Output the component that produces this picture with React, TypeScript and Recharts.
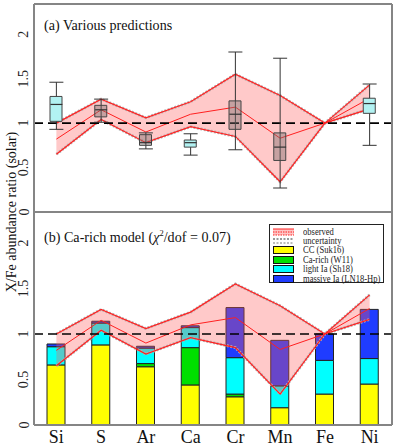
import React from "react";
import {
  Area,
  Bar,
  Cell,
  ComposedChart,
  ErrorBar,
  Line,
  ReferenceLine,
  Scatter,
  XAxis,
  YAxis,
} from "recharts";

const ELEMENTS = ["Si", "S", "Ar", "Ca", "Cr", "Mn", "Fe", "Ni"];

// observed abundance band (same in both panels)
const OBS_UPPER = [1.0, 1.27, 1.06, 1.24, 1.55, 1.31, 1.0, 1.43];
const OBS_MID = [0.82, 1.15, 0.9, 1.1, 1.18, 0.83, 1.0, 1.28];
const OBS_LOWER = [0.65, 1.04, 0.78, 0.96, 0.85, 0.34, 1.0, 1.16];

// panel (a): prediction boxes
const BOX_LOW = [1.02, 1.07, 0.75, 0.73, 0.93, 0.58, null, 1.11];
const BOX_HIGH = [1.3, 1.2, 0.87, 0.81, 1.25, 0.89, null, 1.28];
const BOX_MEDIAN = [1.21, 1.15, 0.78, 0.78, 1.1, 0.73, null, 1.22];
const WHISKER_LOW = [0.93, 1.01, 0.71, 0.64, 0.7, 0.27, null, 0.75];
const WHISKER_HIGH = [1.46, 1.27, 0.89, 0.88, 1.8, 1.73, null, 1.44];
const BOX_KIND = ["light", "mixed", "mixed", "light", "mixed", "mixed", null, "light"];

// panel (b): Ca-rich model contributions
const CC = [0.66, 0.88, 0.64, 0.44, 0.31, 0.19, 0.34, 0.45];
const CA_RICH = [0, 0, 0.035, 0.41, 0.03, 0, 0, 0];
const LIGHT_IA = [0.2, 0.24, 0.17, 0.22, 0.4, 0.24, 0.37, 0.28];
const MASSIVE_IA = [0.03, 0.02, 0.02, 0.02, 0.55, 0.5, 0.29, 0.54];

const MAJOR_TICKS = [0, 0.5, 1, 1.5, 2];
const MINOR_TICKS = [
  0.1, 0.2, 0.3, 0.4, 0.6, 0.7, 0.8, 0.9, 1.1, 1.2, 1.3, 1.4, 1.6, 1.7, 1.8, 1.9,
  2.1, 2.2, 2.3,
];
const Y_MAX = 2.34;

const SERIF = "'Liberation Serif', 'DejaVu Serif', serif";
const FRAME = "#858585";
const RED = "#ff2020";

const rows = ELEMENTS.map((el, i) => ({
  el,
  band: [OBS_LOWER[i], OBS_UPPER[i]],
  upper: OBS_UPPER[i],
  mid: OBS_MID[i],
  lower: OBS_LOWER[i],
  upperHalo: OBS_UPPER[i],
  lowerHalo: OBS_LOWER[i],
  box: BOX_LOW[i] == null ? null : [BOX_LOW[i], BOX_HIGH[i]],
  median: BOX_MEDIAN[i],
  whisker:
    BOX_MEDIAN[i] == null
      ? null
      : [BOX_MEDIAN[i]! - WHISKER_LOW[i]!, WHISKER_HIGH[i]! - BOX_MEDIAN[i]!],
  cc: CC[i],
  caRich: CA_RICH[i],
  lightIa: LIGHT_IA[i],
  massiveIa: MASSIVE_IA[i],
}));

function RotatedTick(props: any) {
  const { x, y, payload } = props;
  return (
    <text
      x={x}
      y={y}
      transform={`rotate(-90 ${x} ${y})`}
      textAnchor="middle"
      dominantBaseline="central"
      fontFamily={SERIF}
      fontSize={14}
      fill="#222"
    >
      {String(payload.value)}
    </text>
  );
}

function MedianMark(props: any) {
  const { cx, cy } = props;
  if (!Number.isFinite(cx) || !Number.isFinite(cy)) return <g />;
  return <line x1={cx - 6} x2={cx + 6} y1={cy} y2={cy} stroke="#333" strokeWidth={1.2} />;
}

const NoMark = () => <g />;

function frameAxes(withLabels: boolean) {
  const tickStroke = { stroke: "#333", strokeWidth: 1 };
  const frameLine = { stroke: FRAME, strokeWidth: 2 };
  return [
    <XAxis key="xb" xAxisId="x" dataKey="el" orientation="bottom" mirror height={1} interval={0}
      tick={false} tickSize={5} tickLine={tickStroke} axisLine={frameLine} />,
    <XAxis key="xt" xAxisId="top" dataKey="el" orientation="top" mirror height={1} interval={0}
      tick={false} tickSize={5} tickLine={tickStroke} axisLine={frameLine} />,
    withLabels ? (
      <XAxis key="xl" xAxisId="lab" dataKey="el" orientation="bottom" height={21} interval={0}
        tickLine={false} axisLine={false} tickSize={0} tickMargin={5}
        tick={{ fontFamily: SERIF, fontSize: 18, fill: "#111" }} />
    ) : null,
    <YAxis key="yl" yAxisId="lab" type="number" domain={[0, Y_MAX]} allowDataOverflow width={34}
      ticks={MAJOR_TICKS} interval={0} tickLine={false} axisLine={false} tickMargin={4}
      tick={<RotatedTick />} />,
    <YAxis key="y" yAxisId="y" type="number" domain={[0, Y_MAX]} allowDataOverflow mirror width={1}
      ticks={MAJOR_TICKS} interval={0} tick={false} tickSize={6} tickLine={tickStroke} axisLine={frameLine} />,
    <YAxis key="ym" yAxisId="ym" type="number" domain={[0, Y_MAX]} allowDataOverflow mirror width={1}
      ticks={MINOR_TICKS} interval={0} tick={false} tickSize={3} tickLine={tickStroke} axisLine={false} />,
    <YAxis key="yr" yAxisId="yr" type="number" orientation="right" domain={[0, Y_MAX]} allowDataOverflow
      mirror width={1} ticks={MAJOR_TICKS} interval={0} tick={false} tickSize={6} tickLine={tickStroke}
      axisLine={frameLine} />,
    <YAxis key="yrm" yAxisId="yrm" type="number" orientation="right" domain={[0, Y_MAX]} allowDataOverflow
      mirror width={1} ticks={MINOR_TICKS} interval={0} tick={false} tickSize={3} tickLine={tickStroke}
      axisLine={false} />,
  ];
}

function observedBand(prefix: string) {
  const common = { xAxisId: "x", yAxisId: "y", isAnimationActive: false, dot: false, activeDot: false } as const;
  return [
    <Area key={`${prefix}-band`} {...common} zIndex={350} type="linear" dataKey="band" fill="#ff5a5a"
      fillOpacity={0.33} stroke="none" />,
    <Line key={`${prefix}-uh`} {...common} zIndex={390} type="linear" dataKey="upperHalo" stroke="#b4b4b4"
      strokeWidth={2.8} strokeDasharray="2 1.5" />,
    <Line key={`${prefix}-lh`} {...common} zIndex={390} type="linear" dataKey="lowerHalo" stroke="#b4b4b4"
      strokeWidth={2.8} strokeDasharray="2 1.5" />,
    <Line key={`${prefix}-u`} {...common} zIndex={400} type="linear" dataKey="upper" stroke={RED} strokeWidth={1.2} />,
    <Line key={`${prefix}-m`} {...common} zIndex={400} type="linear" dataKey="mid" stroke={RED} strokeWidth={1} />,
    <Line key={`${prefix}-l`} {...common} zIndex={400} type="linear" dataKey="lower" stroke={RED} strokeWidth={1.2} />,
  ];
}

const SEGMENTS = [
  { key: "cc", color: "#ffff00", label: "CC (Suk16)" },
  { key: "caRich", color: "#00e000", label: "Ca-rich (W11)" },
  { key: "lightIa", color: "#00ffff", label: "light Ia (Sh18)" },
  { key: "massiveIa", color: "#1f3cff", label: "massive Ia (LN18-Hp)" },
];

function LegendBox() {
  const rowsTop = [2.5, 12, 20.5, 30.5, 39.5, 49.5];
  const swatch = (i: number) => {
    if (i === 0)
      return (
        <svg width={21} height={8} style={{ flex: "none" }}>
          <rect x={0} y={1} width={21} height={6} fill="#ffc4c4" />
          <line x1={0} x2={21} y1={1} y2={1} stroke={RED} />
          <line x1={0} x2={21} y1={4} y2={4} stroke={RED} strokeDasharray="1.5 1" />
          <line x1={0} x2={21} y1={7} y2={7} stroke={RED} strokeDasharray="1.5 1" />
        </svg>
      );
    if (i === 1)
      return (
        <svg width={21} height={8} style={{ flex: "none" }}>
          <line x1={0} x2={21} y1={2} y2={2} stroke="#999" strokeWidth={2} strokeDasharray="2 1.5" />
          <line x1={0} x2={21} y1={6} y2={6} stroke="#bbb" strokeWidth={2} strokeDasharray="2 1.5" />
        </svg>
      );
    return (
      <svg width={21} height={8} style={{ flex: "none" }}>
        <rect x={0.5} y={0.5} width={20} height={7} fill={SEGMENTS[i - 2].color} stroke="#111" />
      </svg>
    );
  };
  const labels = ["observed", "uncertainty", ...SEGMENTS.map((s) => s.label)];
  return (
    <div
      style={{
        position: "absolute",
        left: 269,
        top: 224,
        width: 115,
        height: 59,
        boxSizing: "border-box",
        border: "1px solid #222",
        background: "#fff",
        fontFamily: SERIF,
        fontSize: 9.5,
        color: "#222",
      }}
    >
      {labels.map((label, i) => (
        <div key={label} style={{ position: "absolute", left: 3, top: rowsTop[i], height: 8, display: "flex", alignItems: "center" }}>
          {swatch(i)}
          <span
            style={{
              marginLeft: 9,
              whiteSpace: "nowrap",
              lineHeight: "8px",
              height: 8,
              display: "inline-block",
              transform: "scaleX(0.9)",
              transformOrigin: "left center",
            }}
          >
            {label}
          </span>
        </div>
      ))}
    </div>
  );
}

const titleStyle: React.CSSProperties = {
  position: "absolute",
  left: 44,
  fontFamily: SERIF,
  fontSize: 15,
  lineHeight: "16px",
  color: "#111",
  whiteSpace: "nowrap",
  transform: "scaleX(0.94)",
  transformOrigin: "left center",
};

export default function App() {
  return (
    <div style={{ position: "absolute", left: 0, top: 0, width: 397, height: 446, background: "#fff" }}>
      <div style={{ position: "absolute", left: 0, top: 0 }}>
        <ComposedChart width={397} height={222} data={rows} margin={{ top: 4, right: 5, bottom: 10, left: 0 }}>
          {frameAxes(false)}
          {observedBand("a")}
          <Scatter xAxisId="x" yAxisId="y" dataKey="median" shape={NoMark} zIndex={250} isAnimationActive={false}>
            <ErrorBar dataKey="whisker" direction="y" width={7} stroke="#333" strokeWidth={1} isAnimationActive={false} />
          </Scatter>
          <Bar xAxisId="x" yAxisId="y" dataKey="box" barSize={12} stroke="#444" strokeWidth={1} zIndex={420}
            isAnimationActive={false}>
            {rows.map((row, i) => (
              <Cell key={row.el} fill={BOX_KIND[i] === "light" ? "#b2f2f2" : "rgba(120,108,108,0.42)"} />
            ))}
          </Bar>
          <Scatter xAxisId="x" yAxisId="y" dataKey="median" shape={MedianMark} isAnimationActive={false} />
          <ReferenceLine xAxisId="x" yAxisId="y" y={1} stroke="#000" strokeWidth={1.6} strokeDasharray="9 5" />
        </ComposedChart>
      </div>

      <div style={{ position: "absolute", left: 0, top: 212 }}>
        <ComposedChart width={397} height={234} data={rows} margin={{ top: 0, right: 5, bottom: 0, left: 0 }}>
          {frameAxes(true)}
          {SEGMENTS.map((s) => (
            <Bar key={s.key} xAxisId="x" yAxisId="y" dataKey={s.key} stackId="model" barSize={18}
              fill={s.color} stroke="#222" strokeWidth={1} isAnimationActive={false} />
          ))}
          {observedBand("b")}
          <ReferenceLine xAxisId="x" yAxisId="y" y={1} stroke="#000" strokeWidth={1.6} strokeDasharray="9 5" />
        </ComposedChart>
      </div>

      <div style={{ ...titleStyle, top: 17 }}>(a) Various predictions</div>
      <div style={{ ...titleStyle, top: 229 }}>
        (b) Ca-rich model (<i>χ</i>
        <sup style={{ fontSize: 9, lineHeight: 0 }}>2</sup>/dof = 0.07)
      </div>
      <div
        style={{
          position: "absolute",
          left: 12 - 100,
          top: 212 - 8,
          width: 200,
          height: 16,
          lineHeight: "16px",
          textAlign: "center",
          transform: "rotate(-90deg)",
          fontFamily: SERIF,
          fontSize: 14,
          color: "#111",
          whiteSpace: "nowrap",
        }}
      >
        X/Fe abundance ratio (solar)
      </div>
      <LegendBox />
    </div>
  );
}
